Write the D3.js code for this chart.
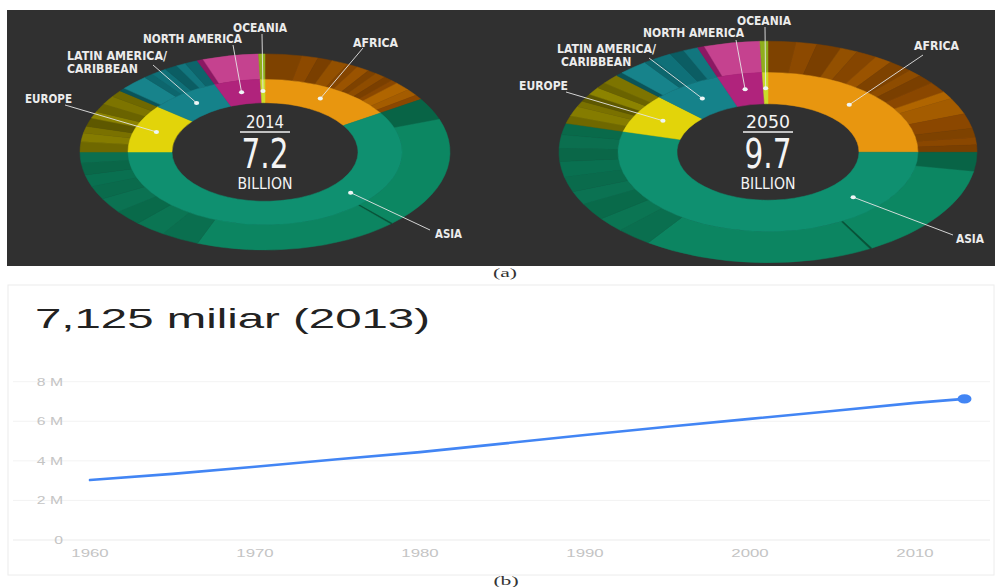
<!DOCTYPE html>
<html><head><meta charset="utf-8">
<script src="https://cdn.jsdelivr.net/npm/d3@7"></script>
<style>
html,body{margin:0;padding:0;background:#fff;}
svg{display:block;}
.lbl{font-family:"DejaVu Sans Condensed","DejaVu Sans",sans-serif;font-stretch:condensed;font-weight:bold;fill:#ececec;font-size:12.5px;}
.ctr{font-family:"DejaVu Sans Condensed","DejaVu Sans",sans-serif;font-stretch:condensed;fill:#f4f4f4;}
.ax{font-family:"Liberation Sans",Arial,sans-serif;font-size:10.5px;fill:#c4c4c4;}
</style></head><body>
<svg id="c" width="996" height="587"></svg>
<script>
// ================= DATA =================
const regionNames = ["AFRICA","ASIA","EUROPE","LATIN AMERICA/CARIBBEAN","NORTH AMERICA","OCEANIA"];
const donutYears = ["2014","2050"];
const donutTotals = ["7.2","9.7"];
// population by region, billions
const pop2014 = [1.15, 4.25, 0.77, 0.60, 0.39, 0.04];
const pop2050 = [2.43, 5.25, 0.77, 0.72, 0.47, 0.06];
// outer ring: country shares inside each region (clockwise order)
const africaSub2014  = [20, 9, 8, 9, 6, 7, 5, 6, 5, 4, 9, 7, 5];
const asiaSub2014    = [13, 66, 0.7, 64, 12, 10, 9, 9, 8, 7, 7, 6.5];
const europeSub2014  = [6, 5, 4, 5, 4, 5, 5, 4];
const latamSub2014   = [2, 9, 3, 5, 4, 3, 4];
const northSub2014   = [2, 18];
const oceaniaSub2014 = [1];
const africaSub2050  = [8, 6, 7, 5, 6, 5, 7, 4, 5, 6, 4, 9, 8, 5, 4, 4];
const asiaSub2050    = [10, 50, 0.7, 64, 10, 8, 9, 7, 8, 8, 7, 7, 6];
const europeSub2050  = [4, 5, 3, 4, 4, 3, 5];
const latamSub2050   = [2, 8, 3, 5, 4, 4];
const northSub2050   = [2, 16];
const oceaniaSub2050 = [1];
// line chart: world population (axis in "M" units as labelled)
const lineYears = [1960, 1965, 1970, 1975, 1980, 1985, 1990, 1995, 2000, 2005, 2010, 2013];
const worldPop  = [3.03, 3.34, 3.70, 4.08, 4.44, 4.87, 5.31, 5.72, 6.12, 6.52, 6.93, 7.13];
const yTicks = [0, 2, 4, 6, 8];
const xTicks = [1960, 1970, 1980, 1990, 2000, 2010];
const headline = "7,125 miliar (2013)";

// ================= STYLE =================
const innerColors = ["#e8960f", "#0f9070", "#e2d40a", "#15828a", "#b0237c", "#cbdc2a"];
const outerShades = [
  ["#7e4200","#8c4900","#7a3f00","#935000","#854500","#9a5300","#7e4200","#8e4c00","#7a3f00","#8a4700","#b06500","#a45c00","#8b4700","#7e4200","#8a4700","#7a3f00"],
  ["#086446","#0c8762","#075438","#0c8561","#0a6f4f","#0b7553","#096a4a","#0b7252","#0a6b4c","#097050","#0a6748","#0b6f4f","#096a4a"],
  ["#6f6800","#857c00","#7a7100","#5e5800","#8c8300","#6a6300","#7d7400","#6f6800"],
  ["#0a5459","#17838b","#0d666d","#0f7078","#0b5d63","#12767e","#0d646b"],
  ["#8c1863","#c5428f"],
  ["#8fae1c"]
];
const subs = [
  [africaSub2014, asiaSub2014, europeSub2014, latamSub2014, northSub2014, oceaniaSub2014],
  [africaSub2050, asiaSub2050, europeSub2050, latamSub2050, northSub2050, oceaniaSub2050]
];
const pops = [pop2014, pop2050];

// layout of each donut (screen geometry)
const donutLayout = [
  {cx:265, cy:152, k:0.53, r0:93, r1:137, r2:185, yearW:38},
  {cx:768, cy:152, k:0.53, r0:91, r1:150, r2:209, yearW:44}
];
// label layout relative to donut centre: [anchor, x, y, width, lineX, lineY, dotFrac]
const labelLayout = [
  [ ["start",88,-105,45,98,-104,0.5], ["start",170,86,27,165,78,0.35], ["start",-240,-49,47,-200,-47,0.5],
    ["start",-198,-92,100,-112,-87,0.5], ["end",-23,-109,99,-32,-107,0.5], ["middle",-5,-120,54,-3,-118,0.5] ],
  [ ["start",146,-102,45,155,-97,0.47], ["start",188,91,28,185,83,0.23], ["start",-249,-62,49,-202,-60,0.5],
    ["start",-211,-99,99,-119,-94,0.5], ["end",-24,-115,101,-32,-112,0.5], ["middle",-4,-127,54,-3,-125,0.5] ]
];

const svg = d3.select("#c");

// ================= TOP PANEL =================
svg.append("rect").attr("x",7).attr("y",10).attr("width",988).attr("height",256).attr("fill","#303030");

donutLayout.forEach((L, di) => {
  const g = svg.append("g").attr("transform", `translate(${L.cx},${L.cy})`);
  const ring = g.append("g").attr("transform", `scale(1,${L.k})`);
  const arcs = d3.pie().sort(null).value(d => d)(pops[di]);
  const innerArc = d3.arc().innerRadius(L.r0).outerRadius(L.r1);
  const outerArc = d3.arc().innerRadius(L.r1).outerRadius(L.r2);
  arcs.forEach((a, i) => {
    const sp = d3.pie().sort(null).value(d => d).startAngle(a.startAngle).endAngle(a.endAngle)(subs[di][i]);
    const sh = outerShades[i];
    ring.selectAll(null).data(sp).join("path")
      .attr("d", outerArc)
      .attr("fill", (d, j) => sh[j % sh.length])
      .attr("stroke", (d, j) => sh[j % sh.length])
      .attr("stroke-width", 0.5).attr("vector-effect","non-scaling-stroke");
  });
  ring.selectAll(null).data(arcs).join("path")
    .attr("d", innerArc)
    .attr("fill", (d, i) => innerColors[i])
    .attr("stroke", (d, i) => innerColors[i])
    .attr("stroke-width", 0.5).attr("vector-effect","non-scaling-stroke");

  // labels, leader lines, dots
  arcs.forEach((a, i) => {
    const [anc, lx, ly, lw, sx, sy, frac] = labelLayout[di][i];
    const ang = a.startAngle + frac * (a.endAngle - a.startAngle);
    const rr = (L.r0 + L.r1) / 2;
    const dx = rr * Math.sin(ang), dy = -L.k * rr * Math.cos(ang);
    g.append("line").attr("x1", sx).attr("y1", sy).attr("x2", dx).attr("y2", dy)
      .attr("stroke", "#e6e6e6").attr("stroke-width", 1).attr("opacity", 0.9);
    g.append("ellipse").attr("cx", dx).attr("cy", dy).attr("rx", 2.6).attr("ry", 2)
      .attr("fill", "#eef6f6");
    const name = regionNames[i];
    if (name.includes("/")) {
      const parts = name.split("/");
      const t1 = parts[0] + "/", t2 = parts[1];
      g.append("text").attr("class","lbl").attr("x", lx).attr("y", ly).attr("text-anchor", anc)
        .attr("textLength", lw).attr("lengthAdjust","spacingAndGlyphs").text(t1);
      g.append("text").attr("class","lbl").attr("x", lx + (di ? 4 : 0)).attr("y", ly + 12.5).attr("text-anchor", anc)
        .attr("textLength", lw * 0.71).attr("lengthAdjust","spacingAndGlyphs").text(t2);
    } else {
      g.append("text").attr("class","lbl").attr("x", lx).attr("y", ly).attr("text-anchor", anc)
        .attr("textLength", lw).attr("lengthAdjust","spacingAndGlyphs").text(name);
    }
  });

  // centre text
  g.append("text").attr("class","ctr").attr("x",0).attr("y",-24).attr("text-anchor","middle")
    .attr("font-size",17).attr("textLength",L.yearW).attr("lengthAdjust","spacingAndGlyphs").text(donutYears[di]);
  g.append("line").attr("x1",-25).attr("x2",25).attr("y1",-20).attr("y2",-20).attr("stroke","#f0f0f0").attr("stroke-width",1.5);
  g.append("text").attr("class","ctr").attr("x",0).attr("y",16).attr("text-anchor","middle")
    .attr("font-size",40).attr("textLength",47).attr("lengthAdjust","spacingAndGlyphs").text(donutTotals[di]);
  g.append("text").attr("class","ctr").attr("x",0).attr("y",36.5).attr("text-anchor","middle")
    .attr("font-size",16.5).attr("textLength",55).attr("lengthAdjust","spacingAndGlyphs").text("BILLION");
});

// captions
function caption(txt, cx, cy) {
  svg.append("text").attr("transform", `translate(${cx},${cy}) scale(1.8,1)`)
    .attr("text-anchor","middle").attr("font-family","Liberation Serif, serif").attr("font-size",12)
    .attr("fill","#333").text(txt);
}
caption("(a)", 505, 277);
caption("(b)", 506, 585);

// ================= BOTTOM PANEL =================
svg.append("rect").attr("x",8).attr("y",285).attr("width",986).attr("height",290)
  .attr("fill","#fff").attr("stroke","#ececec").attr("stroke-width",1);

svg.append("text").attr("x",35).attr("y",327.5)
  .attr("font-family","Liberation Sans, Arial, sans-serif").attr("font-size",28).attr("fill","#222")
  .attr("textLength",395).attr("lengthAdjust","spacingAndGlyphs").text(headline);

const x = d3.scaleLinear().domain([1960, 2010]).range([90, 915]);
const y = d3.scaleLinear().domain([0, 8]).range([540, 381.7]);

svg.append("g").selectAll("line").data(yTicks).join("line")
  .attr("x1", 13).attr("x2", 990).attr("y1", d => y(d)).attr("y2", d => y(d))
  .attr("stroke", d => d === 0 ? "#ebebeb" : "#f3f3f3").attr("stroke-width", 1);

svg.append("g").selectAll("text").data(yTicks).join("text")
  .attr("class","ax").attr("text-anchor","end")
  .attr("transform", d => `translate(63,${y(d) + 4}) scale(1.5,1)`)
  .text(d => d === 0 ? "0" : d + " M");

svg.append("g").selectAll("text").data(xTicks).join("text")
  .attr("class","ax").attr("text-anchor","middle")
  .attr("transform", d => `translate(${x(d)},557) scale(1.6,1)`)
  .text(d => d);

svg.append("path").datum(lineYears.map((yr, i) => [yr, worldPop[i]]))
  .attr("d", d3.line().x(d => x(d[0])).y(d => y(d[1])))
  .attr("fill","none").attr("stroke","#4285f4").attr("stroke-width",2.6).attr("stroke-linecap","round");

const last = lineYears.length - 1;
svg.append("ellipse").attr("cx", x(lineYears[last])).attr("cy", y(worldPop[last]))
  .attr("rx", 7).attr("ry", 4.7).attr("fill", "#4285f4");
</script>
</body></html>
